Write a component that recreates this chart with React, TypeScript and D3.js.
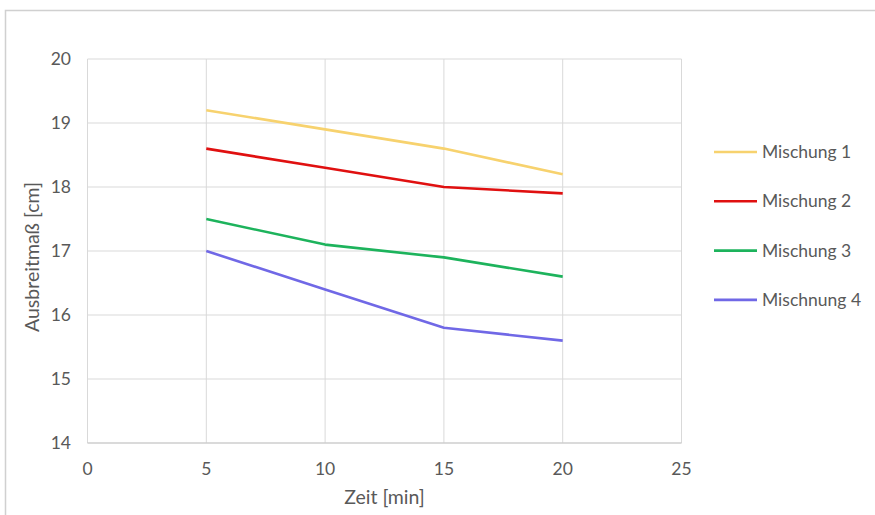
import React from "react";
import * as d3 from "d3";

const times = [5, 10, 15, 20];
const seriesNames = ["Mischung 1", "Mischung 2", "Mischung 3", "Mischnung 4"];
const mischung1 = [19.2, 18.9, 18.6, 18.2];
const mischung2 = [18.6, 18.3, 18.0, 17.9];
const mischung3 = [17.5, 17.1, 16.9, 16.6];
const mischung4 = [17.0, 16.4, 15.8, 15.6];
const seriesColors = ["#F7D26E", "#E01010", "#1DB35C", "#7068E6"];
const xTicks = [0, 5, 10, 15, 20, 25];
const yTicks = [14, 15, 16, 17, 18, 19, 20];

const W = 875;
const H = 515;
const FONT = "Lato, 'Open Sans', sans-serif";
const TXT = "#595959";

export default function App() {
  const x = d3.scaleLinear().domain([0, 25]).range([87.5, 681.5]);
  const y = d3.scaleLinear().domain([14, 20]).range([443, 59]);
  const all = [mischung1, mischung2, mischung3, mischung4];
  const line = d3
    .line<number>()
    .x((_, i) => x(times[i]))
    .y((d) => y(d));

  return (
    <svg
      width={W}
      height={H}
      style={{ position: "absolute", left: 0, top: 0, background: "#fff" }}
      fontFamily={FONT}
    >
      <rect x={5.5} y={10.5} width={900} height={600} fill="#fff" stroke="#d0d0d0" strokeWidth={1.5} />
      {yTicks.map((t) => (
        <line key={"gy" + t} x1={x(0)} x2={x(25)} y1={y(t)} y2={y(t)} stroke="#d9d9d9" strokeWidth={1} />
      ))}
      {xTicks.map((t) => (
        <line key={"gx" + t} x1={x(t)} x2={x(t)} y1={y(20)} y2={y(14)} stroke="#d9d9d9" strokeWidth={1} />
      ))}
      <line x1={x(0)} x2={x(25)} y1={y(14)} y2={y(14)} stroke="#c8c8c8" strokeWidth={1.2} />
      {yTicks.map((t) => (
        <text key={"ty" + t} x={71} y={y(t)} dy="0.35em" textAnchor="end" fontSize={17.5} fill={TXT}>
          {t}
        </text>
      ))}
      {xTicks.map((t) => (
        <text key={"tx" + t} x={x(t)} y={475} textAnchor="middle" fontSize={17.5} fill={TXT}>
          {t}
        </text>
      ))}
      <text x={384.5} y={504} textAnchor="middle" fontSize={19.5} fill={TXT}>
        Zeit [min]
      </text>
      <text
        transform={`translate(39,257) rotate(-90)`}
        textAnchor="middle"
        fontSize={19.5}
        fill={TXT}
      >
        Ausbreitmaß [cm]
      </text>
      {all.map((s, i) => (
        <path key={"l" + i} d={line(s) || ""} fill="none" stroke={seriesColors[i]} strokeWidth={2.6} strokeLinejoin="round" />
      ))}
      {seriesNames.map((n, i) => {
        const ly = 152 + i * 49.3;
        return (
          <g key={"lg" + i}>
            <line x1={714} x2={757} y1={ly} y2={ly} stroke={seriesColors[i]} strokeWidth={2.6} />
            <text x={762} y={ly} dy="0.35em" fontSize={17.5} fill={TXT}>
              {n}
            </text>
          </g>
        );
      })}
    </svg>
  );
}
